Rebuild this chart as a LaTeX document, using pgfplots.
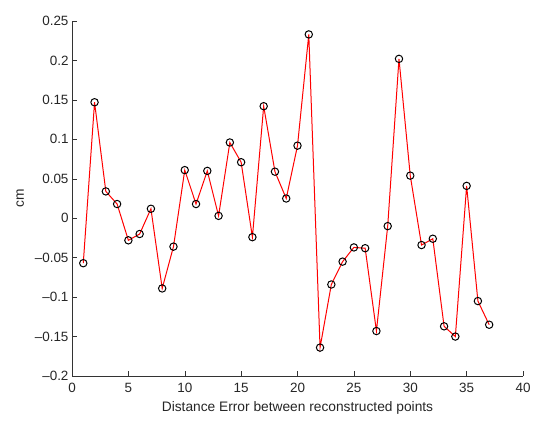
\documentclass[border=0pt]{standalone}
\usepackage{pgfplots}
\pgfplotsset{compat=1.18}
\usepackage{fontspec}
\setmainfont{Liberation Sans}
\begin{document}
\begin{tikzpicture}[x=1bp,y=1bp]
\begin{axis}[
  scale only axis,
  width=451bp, height=355bp,
  xmin=0, xmax=40, ymin=-0.2, ymax=0.25,
  axis lines=left,
  axis line style={-, black!80},
  tick style={black!80, line width=0.5pt},
  tick align=inside,
  major tick length=5bp,
  xtick={0,5,...,40},
  ytick={-0.2,-0.15,-0.1,-0.05,0,0.05,0.1,0.15,0.2,0.25},
  yticklabels={\textendash0.2,\textendash0.15,\textendash0.1,\textendash0.05,0,0.05,0.1,0.15,0.2,0.25},
  /pgf/number format/assume math mode=true,
  tick label style={font=\fontsize{13.5}{15}\selectfont, text=black!85},
  label style={font=\fontsize{13.8}{15}\selectfont, text=black!85},
  xticklabel style={yshift=-4bp},
  xlabel={Distance Error between reconstructed points},
  ylabel={cm},
  xlabel style={yshift=-2bp},
  ylabel style={yshift=4bp},
  clip=false,
]
\addplot[red, line width=1bp, mark=o, mark size=3.7bp, mark options={black, line width=1bp}] coordinates {
(1,-0.057) (2,0.147) (3,0.034) (4,0.018) (5,-0.028) (6,-0.020) (7,0.012) (8,-0.089)
(9,-0.036) (10,0.061) (11,0.018) (12,0.060) (13,0.003) (14,0.096) (15,0.071) (16,-0.024)
(17,0.142) (18,0.059) (19,0.025) (20,0.092) (21,0.233) (22,-0.164) (23,-0.084) (24,-0.055)
(25,-0.037) (26,-0.038) (27,-0.143) (28,-0.010) (29,0.202) (30,0.054) (31,-0.034) (32,-0.026)
(33,-0.137) (34,-0.150) (35,0.041) (36,-0.105) (37,-0.135)
};
\end{axis}
\pgfresetboundingbox
\path (current axis.south west) ++(-72bp,-53bp) rectangle ([shift={(18bp,21bp)}]current axis.north east);
\end{tikzpicture}
\end{document}
